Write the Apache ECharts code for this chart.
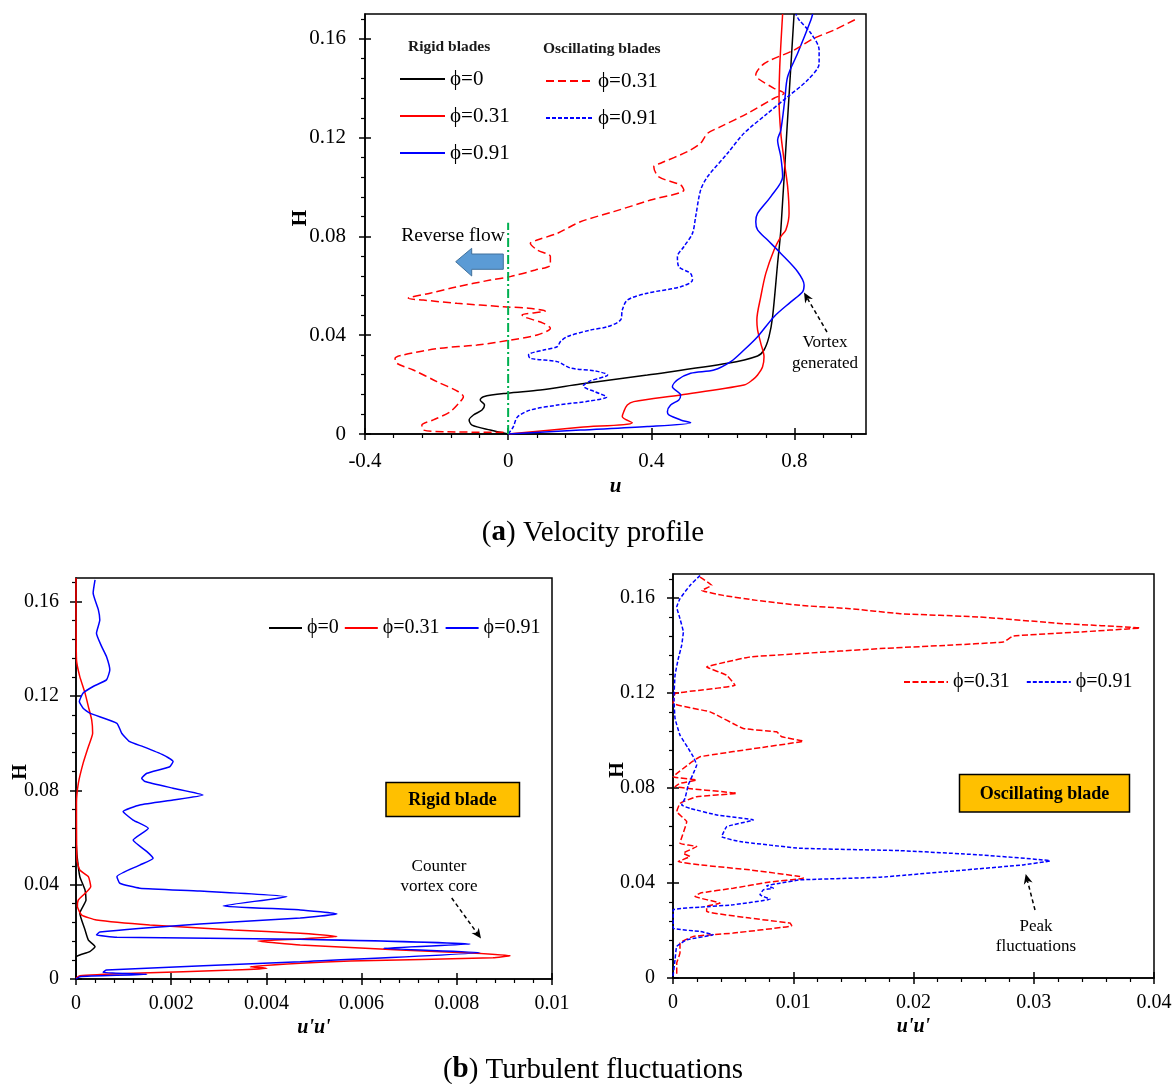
<!DOCTYPE html>
<html><head><meta charset="utf-8">
<script src="https://cdn.jsdelivr.net/npm/echarts@6/dist/echarts.min.js"></script>
<style>html,body{margin:0;padding:0;background:#fff}#c{width:1176px;height:1084px}</style>
</head><body><div id="c"></div>
<script>
const FONT = '"Liberation Serif","Times New Roman",serif';

// ===== (a) Velocity profile: points are [u, H]
const velRigidPhi0 = [[0,0],[-0.05,0.0016],[-0.101,0.0036],[-0.109,0.0057],[-0.097,0.0077],[-0.073,0.0097],[-0.066,0.0117],[-0.078,0.0138],[-0.069,0.0151],[-0.003,0.0165],[0.09,0.0178],[0.202,0.0202],[0.389,0.0239],[0.613,0.0286],[0.697,0.0316],[0.715,0.034],[0.729,0.0394],[0.739,0.0475],[0.753,0.0691],[0.762,0.0826],[0.779,0.123],[0.799,0.17]];
const velRigidPhi031 = [[0,0],[0.202,0.0027],[0.347,0.0046],[0.319,0.007],[0.323,0.009],[0.333,0.0117],[0.351,0.0131],[0.482,0.0158],[0.659,0.0198],[0.683,0.0219],[0.697,0.0239],[0.711,0.0272],[0.715,0.0313],[0.706,0.0367],[0.697,0.0421],[0.695,0.0461],[0.706,0.0556],[0.72,0.065],[0.743,0.0745],[0.762,0.0799],[0.776,0.0826],[0.785,0.0893],[0.781,0.1001],[0.771,0.1109],[0.762,0.1217],[0.757,0.1352],[0.759,0.1487],[0.767,0.17]];
const velRigidPhi091 = [[0,0],[0.202,0.0016],[0.389,0.003],[0.51,0.0046],[0.482,0.0057],[0.449,0.0077],[0.445,0.009],[0.454,0.0117],[0.477,0.0138],[0.482,0.0158],[0.459,0.0191],[0.473,0.0219],[0.51,0.0246],[0.575,0.0259],[0.622,0.0293],[0.659,0.034],[0.697,0.0394],[0.743,0.0475],[0.79,0.0535],[0.823,0.0576],[0.827,0.0603],[0.809,0.0657],[0.762,0.0731],[0.725,0.0785],[0.697,0.0826],[0.692,0.0859],[0.697,0.0893],[0.734,0.0961],[0.767,0.1041],[0.762,0.1122],[0.753,0.119],[0.762,0.123],[0.773,0.1352],[0.781,0.1446],[0.809,0.1541],[0.846,0.1676],[0.851,0.17]];
const velOscPhi031 = [[-0.013,0.0007],[-0.171,0.0009],[-0.237,0.0016],[-0.241,0.0036],[-0.209,0.0057],[-0.162,0.009],[-0.134,0.0131],[-0.125,0.0151],[-0.139,0.0171],[-0.199,0.0212],[-0.265,0.0259],[-0.311,0.0286],[-0.316,0.0306],[-0.293,0.032],[-0.19,0.0347],[-0.087,0.036],[0.006,0.038],[0.081,0.0401],[0.118,0.0428],[0.099,0.0448],[0.043,0.0475],[0.039,0.0482],[0.104,0.0498],[0.057,0.0509],[-0.013,0.0515],[-0.143,0.0529],[-0.237,0.0542],[-0.279,0.0549],[-0.218,0.057],[-0.143,0.0596],[-0.05,0.0623],[0.006,0.0637],[0.076,0.0664],[0.118,0.0684],[0.118,0.0718],[0.081,0.0745],[0.062,0.0772],[0.081,0.0785],[0.137,0.0812],[0.202,0.0859],[0.295,0.09],[0.398,0.0947],[0.491,0.0988],[0.482,0.1008],[0.421,0.1041],[0.407,0.1082],[0.426,0.1096],[0.501,0.1143],[0.538,0.1177],[0.557,0.1217],[0.594,0.1244],[0.669,0.1298],[0.743,0.1359],[0.771,0.1379],[0.743,0.1399],[0.697,0.144],[0.692,0.1453],[0.711,0.1494],[0.734,0.1514],[0.799,0.1554],[0.855,0.1602],[0.911,0.1635],[0.977,0.1683]];
const velOscPhi091 = [[0,0],[0.014,0.0028],[0.026,0.0069],[0.062,0.0097],[0.138,0.0117],[0.23,0.0134],[0.275,0.015],[0.244,0.017],[0.21,0.0194],[0.23,0.0215],[0.278,0.0239],[0.244,0.0255],[0.174,0.0267],[0.137,0.0293],[0.062,0.0306],[0.057,0.032],[0.099,0.034],[0.137,0.0353],[0.146,0.0374],[0.165,0.0394],[0.23,0.0421],[0.277,0.0434],[0.314,0.0461],[0.319,0.0502],[0.333,0.0542],[0.389,0.057],[0.482,0.0596],[0.515,0.0623],[0.51,0.065],[0.477,0.0677],[0.473,0.0718],[0.491,0.0758],[0.515,0.0812],[0.524,0.088],[0.538,0.0988],[0.557,0.1041],[0.613,0.1136],[0.659,0.1217],[0.725,0.1298],[0.781,0.1365],[0.837,0.1433],[0.869,0.15],[0.869,0.1554],[0.846,0.1622],[0.813,0.1676],[0.804,0.17]];
const reverseFlowLine = [[0,0],[0,0.0855]];

// ===== (b) Turbulent fluctuations: points are [u'u', H]
const turbRigidPhi0 = [[0,0.059],[0.00002,0.0526],[0.00008,0.0434],[0.00019,0.0377],[0.00021,0.0335],[0.00008,0.0279],[0.00019,0.0208],[0.00026,0.0165],[0.0004,0.0137],[0.00029,0.0116],[0.00008,0.0102],[0,0.0093],[0,0]];
const turbRigidPhi031 = [[0,0.17],[0.00001,0.1353],[0.00008,0.1282],[0.00019,0.1212],[0.00026,0.1155],[0.00033,0.1098],[0.00035,0.1042],[0.00026,0.0985],[0.00015,0.0915],[0.00005,0.083],[0.00001,0.0745],[0.00002,0.0505],[0.00008,0.0462],[0.00026,0.0434],[0.00031,0.0391],[0.00019,0.0363],[0.00005,0.0335],[0.00003,0.0307],[0.00012,0.0271],[0.00043,0.025],[0.00155,0.0229],[0.0033,0.0208],[0.00471,0.0194],[0.00548,0.018],[0.00471,0.017],[0.00382,0.0161],[0.00471,0.0144],[0.00681,0.0123],[0.00828,0.011],[0.00912,0.0099],[0.00876,0.009],[0.00576,0.0076],[0.00471,0.0067],[0.00366,0.0052],[0.00401,0.0045],[0.0033,0.0038],[0.0012,0.0024],[0.00008,0.0014],[0,0.0003]];
const turbRigidPhi091 = [[0.0004,0.1692],[0.00036,0.1636],[0.00047,0.1565],[0.0005,0.1522],[0.00043,0.1466],[0.00054,0.1409],[0.00064,0.1367],[0.00071,0.131],[0.00064,0.1268],[0.00036,0.124],[0.00015,0.1212],[0.00007,0.1176],[0.00015,0.1148],[0.00029,0.1127],[0.00086,0.1084],[0.00096,0.1042],[0.00113,0.1006],[0.00141,0.0985],[0.00183,0.095],[0.00204,0.0922],[0.00197,0.09],[0.00149,0.0872],[0.00138,0.0851],[0.00145,0.0837],[0.00204,0.0809],[0.00267,0.078],[0.00204,0.0759],[0.00134,0.0738],[0.00099,0.071],[0.0012,0.0674],[0.00152,0.0639],[0.0012,0.0589],[0.00149,0.054],[0.00162,0.0512],[0.00134,0.0483],[0.00086,0.0434],[0.00092,0.0406],[0.00134,0.0385],[0.0026,0.0373],[0.00443,0.0349],[0.00309,0.031],[0.00471,0.0293],[0.00548,0.0276],[0.00471,0.0259],[0.0026,0.0233],[0.0005,0.0199],[0.00043,0.0187],[0.00086,0.0177],[0.00471,0.0168],[0.00828,0.0148],[0.00646,0.013],[0.00849,0.0112],[0.00471,0.0073],[0.00064,0.0038],[0.00057,0.0028],[0.00149,0.002],[0.00008,0.001],[0,0]];
const turbOscPhi031 = [[0.00225,0.1687],[0.00322,0.1652],[0.00239,0.1631],[0.00418,0.161],[0.00696,0.1589],[0.01056,0.1568],[0.01472,0.1554],[0.01888,0.1533],[0.02553,0.1519],[0.03246,0.1491],[0.03884,0.1473],[0.03385,0.1456],[0.0283,0.1439],[0.02747,0.1414],[0.02276,0.14],[0.01721,0.1386],[0.01056,0.1365],[0.0064,0.1351],[0.00447,0.133],[0.0028,0.1309],[0.00447,0.1274],[0.00516,0.1232],[0.00225,0.1211],[0.00017,0.1197],[0.00002,0.1155],[0.00308,0.112],[0.00585,0.105],[0.00862,0.1036],[0.00904,0.1015],[0.01084,0.0997],[0.00779,0.0973],[0.00225,0.0931],[0.00141,0.0903],[0.00002,0.0847],[0.00197,0.0833],[0.00058,0.0819],[0.00017,0.0805],[0.0053,0.0777],[0.00197,0.0763],[0.00058,0.0735],[0.00031,0.07],[0.00114,0.0658],[0.00058,0.0567],[0.00197,0.0553],[0.00086,0.0525],[0.00141,0.0511],[0.00044,0.049],[0.00225,0.0476],[0.0064,0.0455],[0.01056,0.0427],[0.01084,0.042],[0.00807,0.0404],[0.00501,0.0378],[0.00225,0.0357],[0.00183,0.0343],[0.00391,0.0315],[0.0028,0.0301],[0.0028,0.028],[0.0064,0.0252],[0.00973,0.0231],[0.00987,0.022],[0.00501,0.0189],[0.00169,0.0175],[0.00058,0.0147],[0.00058,0.0105],[0.00031,0.0063],[0.00031,0.0007]];
const turbOscPhi091 = [[0.00225,0.1694],[0.00141,0.1652],[0.00058,0.1596],[0.00031,0.1561],[0.00058,0.1512],[0.00086,0.1456],[0.00072,0.14],[0.00044,0.1344],[0.00017,0.1274],[0.00008,0.1176],[0.00017,0.1092],[0.00058,0.1022],[0.00127,0.0966],[0.00169,0.0931],[0.00197,0.0896],[0.00169,0.0861],[0.00127,0.0812],[0.001,0.0756],[0.00072,0.0728],[0.00141,0.0714],[0.00363,0.0686],[0.00668,0.0665],[0.00447,0.0637],[0.00405,0.0595],[0.00557,0.0574],[0.01056,0.0546],[0.01888,0.0536],[0.02553,0.0518],[0.03135,0.0493],[0.02913,0.0476],[0.02276,0.0448],[0.01721,0.0424],[0.01056,0.0413],[0.0089,0.0399],[0.00779,0.0388],[0.00834,0.0378],[0.00751,0.0371],[0.00723,0.035],[0.00807,0.0332],[0.00501,0.0308],[0.00225,0.0298],[0.00002,0.0287],[0.00002,0.021],[0.00225,0.0196],[0.00335,0.0182],[0.00114,0.0161],[0.00031,0.0133],[0.00017,0.0077],[0,0.0007]];

// ===== tick labels
const velXTicks = [-0.4, 0, 0.4, 0.8];
const hTicks = [0, 0.04, 0.08, 0.12, 0.16];
const turbRigidXTicks = [0, 0.002, 0.004, 0.006, 0.008, 0.01];
const turbOscXTicks = [0, 0.01, 0.02, 0.03, 0.04];

// legend labels
const seriesLabels = {vR0:'ϕ=0', vR31:'ϕ=0.31', vR91:'ϕ=0.91', vO31:'ϕ=0.31', vO91:'ϕ=0.91',
  tR0:'ϕ=0', tR31:'ϕ=0.31', tR91:'ϕ=0.91', tO31:'ϕ=0.31', tO91:'ϕ=0.91'};

function minors(min, max, step, majors){
  const out=[]; const k0=Math.ceil(min/step-1e-9), k1=Math.floor(max/step+1e-9);
  for(let k=k0;k<=k1;k++){const v=+(k*step).toFixed(8); if(!majors.some(m=>Math.abs(m-v)<1e-9)) out.push(v);}
  return out;
}
function axisSet(dim, gi, min, max, majors, minorStep, o){
  const pos = dim==='x'?'bottom':'left';
  const base = {type:'value', gridIndex:gi, min, max, position:pos, splitLine:{show:false}, minorTick:{show:false}};
  const main = Object.assign({}, base, {
    axisLine:{show:true, onZero:false, lineStyle:{color:'#000', width:1.5}},
    axisTick:{show:true, inside:false, length:6, customValues:majors, lineStyle:{color:'#000', width:1.5}},
    axisLabel:{show:true, customValues:majors, margin:o.margin, fontSize:o.fs, fontFamily:FONT, color:'#000'},
    name:o.name, nameLocation:'middle', nameGap:o.nameGap, nameMoveOverlap:false,
    nameTextStyle:{fontFamily:FONT, fontSize:o.nfs, fontWeight:'bold', fontStyle:o.italic?'italic':'normal', color:'#000', padding:o.npad||0}
  });
  const inner = Object.assign({}, base, {
    axisLine:{show:false, onZero:false},
    axisTick:{show:true, inside:true, length:6, customValues:majors, lineStyle:{color:'#000', width:1.5}},
    axisLabel:{show:false}
  });
  const minor = Object.assign({}, base, {
    axisLine:{show:false, onZero:false},
    axisTick:{show:true, inside:false, length:4, customValues:minors(min,max,minorStep,majors), lineStyle:{color:'#000', width:1.2}},
    axisLabel:{show:false}
  });
  return [main, inner, minor];
}

const xAxes = [].concat(
  axisSet('x',0,-0.4,1.0,velXTicks,0.08,{margin:17,fs:21,name:'u',nameGap:42,nfs:21,italic:true}),
  axisSet('x',1,0,0.01,turbRigidXTicks,0.0004,{margin:15,fs:20,name:"u'u'",nameGap:39,nfs:20,italic:true}),
  axisSet('x',2,0,0.04,turbOscXTicks,0.002,{margin:15,fs:20,name:"u'u'",nameGap:39,nfs:20,italic:true})
);
const yAxes = [].concat(
  axisSet('y',0,0,0.17,hTicks,0.008,{margin:19,fs:21,name:'H',nameGap:54,nfs:21,npad:[0,0,0,12]}),
  axisSet('y',1,0,0.17,hTicks,0.008,{margin:17,fs:20,name:'H',nameGap:45,nfs:20,npad:[0,0,0,13]}),
  axisSet('y',2,0,0.17,hTicks,0.008,{margin:18,fs:20,name:'H',nameGap:45,nfs:20,npad:[0,0,0,12]})
);

function line(name, data, ai, color, type, width, smooth){
  return {name, type:'line', data, xAxisIndex:ai, yAxisIndex:ai, symbol:'none', showSymbol:false,
    smooth:smooth, lineStyle:{color, width, type}, itemStyle:{color}, emphasis:{disabled:true}, animation:false};
}
const RED='#ff0000', BLUE='#0000ff', BLACK='#000000';
const series = [
  line('vR0', velRigidPhi0, 0, BLACK, 'solid', 1.5, 0.3),
  line('vR31', velRigidPhi031, 0, RED, 'solid', 1.5, 0.3),
  line('vR91', velRigidPhi091, 0, BLUE, 'solid', 1.5, 0.3),
  line('vO31', velOscPhi031, 0, RED, [8,4], 1.5, 0.3),
  line('vO91', velOscPhi091, 0, BLUE, [4,2], 1.5, 0.3),
  line('reverse', reverseFlowLine, 0, '#00b050', [9,3,2,3], 2, false),
  line('tR0', turbRigidPhi0, 3, BLACK, 'solid', 1.5, 0.15),
  line('tR31', turbRigidPhi031, 3, RED, 'solid', 1.5, 0.15),
  line('tR91', turbRigidPhi091, 3, BLUE, 'solid', 1.5, 0.15),
  line('tO31', turbOscPhi031, 6, RED, [6,2.5], 1.5, 0.1),
  line('tO91', turbOscPhi091, 6, BLUE, [4,2], 1.5, 0.1)
];

function legendCfg(names, extra){
  return Object.assign({data:names, padding:0, selectedMode:false, itemHeight:14,
    itemStyle:{color:'rgba(0,0,0,0)', borderWidth:0, opacity:0},
    textStyle:{fontFamily:FONT, fontSize:21, color:'#000'}, formatter:n=>seriesLabels[n]}, extra);
}

function arrow(x1,y1,x2,y2){
  const dx=x2-x1, dy=y2-y1, L=Math.hypot(dx,dy), ux=dx/L, uy=dy/L;
  const hl=10, hw=4.5, bx=x2-ux*hl, by=y2-uy*hl, nx=x2-ux*7, ny=y2-uy*7;
  return [
    {type:'line', shape:{x1,y1,x2:nx,y2:ny}, style:{stroke:'#000', lineWidth:1.5, lineDash:[4,3]}},
    {type:'polygon', shape:{points:[[x2,y2],[bx-uy*hw,by+ux*hw],[nx,ny],[bx+uy*hw,by-ux*hw]]}, style:{fill:'#000'}}
  ];
}
function txt(x,y,text,size,weight){
  return {type:'text', x, y, style:{text, fontFamily:FONT, fontSize:size, fontWeight:weight||'normal', fill:'#000', align:'center', verticalAlign:'middle'}};
}

const graphic = [].concat(
  [
    {type:'text', x:408, y:47, style:{text:'Rigid blades', fontFamily:FONT, fontSize:15.5, fontWeight:'bold', fill:'#1a1a1a', verticalAlign:'middle'}},
    {type:'text', x:543, y:49, style:{text:'Oscillating blades', fontFamily:FONT, fontSize:15.5, fontWeight:'bold', fill:'#1a1a1a', verticalAlign:'middle'}},
    txt(453,236,'Reverse flow',19.5),
    {type:'polygon', shape:{points:[[455.7,261.7],[471.7,248.3],[471.7,254],[503.3,254],[503.3,269.3],[471.7,269.3],[471.7,276]]}, style:{fill:'#5b9bd5', stroke:'#41719c', lineWidth:1}},
    txt(825,343,'Vortex',17), txt(825,364,'generated',17),
    {type:'rect', shape:{x:386,y:782.5,width:133.5,height:34}, style:{fill:'#ffc000', stroke:'#000', lineWidth:1.5}},
    txt(452.5,800,'Rigid blade',18,'bold'),
    txt(439,867,'Counter',17), txt(439,887,'vortex core',17),
    {type:'rect', shape:{x:959.5,y:774.5,width:170,height:37.5}, style:{fill:'#ffc000', stroke:'#000', lineWidth:1.5}},
    txt(1044.5,794,'Oscillating blade',18,'bold'),
    txt(1036,927,'Peak',17), txt(1036,947,'fluctuations',17),
    {type:'text', x:593, y:533, style:{text:'({b|a}) Velocity profile', rich:{b:{fontFamily:FONT, fontSize:29, fontWeight:'bold', fill:'#000'}}, fontFamily:FONT, fontSize:29, fill:'#000', align:'center', verticalAlign:'middle'}},
    {type:'text', x:593, y:1070, style:{text:'({b|b}) Turbulent fluctuations', rich:{b:{fontFamily:FONT, fontSize:29, fontWeight:'bold', fill:'#000'}}, fontFamily:FONT, fontSize:29, fill:'#000', align:'center', verticalAlign:'middle'}}
  ],
  arrow(827,332,804,292.5),
  arrow(451.7,898,481,938.5),
  arrow(1035,910,1025.7,874)
);

const option = {
  backgroundColor:'#ffffff',
  animation:false,
  grid:[
    {left:365, top:14, width:501, height:420, show:true, borderColor:'#000', borderWidth:1.5, backgroundColor:'transparent', containLabel:false},
    {left:76, top:578, width:476, height:401, show:true, borderColor:'#000', borderWidth:1.5, backgroundColor:'transparent', containLabel:false},
    {left:673, top:574, width:481, height:404, show:true, borderColor:'#000', borderWidth:1.5, backgroundColor:'transparent', containLabel:false}
  ],
  xAxis:xAxes, yAxis:yAxes, series,
  legend:[
    legendCfg(['vR0','vR31','vR91'], {orient:'vertical', left:399, top:68.5, itemWidth:45, itemGap:16}),
    legendCfg(['vO31','vO91'], {orient:'vertical', left:545, top:70.5, itemWidth:47, itemGap:16}),
    legendCfg(['tR0','tR31','tR91'], {orient:'horizontal', left:268, top:618, itemWidth:33, itemGap:5, textStyle:{fontFamily:FONT,fontSize:20,color:'#000'}}),
    legendCfg(['tO31','tO91'], {orient:'horizontal', left:903, top:672, itemWidth:44, itemGap:16, textStyle:{fontFamily:FONT,fontSize:20,color:'#000'}})
  ],
  graphic
};
const chart = echarts.init(document.getElementById('c'), null, {renderer:'canvas'});
chart.setOption(option);
</script>
</body></html>
